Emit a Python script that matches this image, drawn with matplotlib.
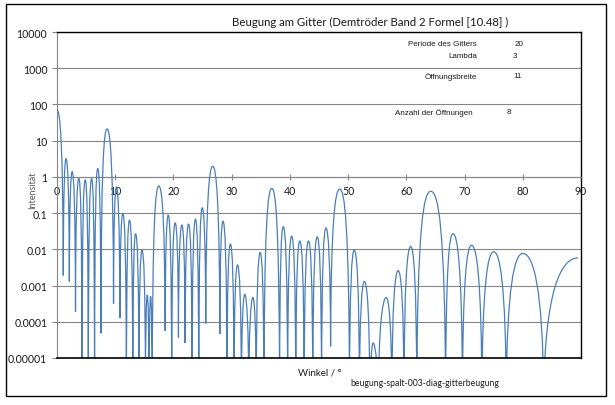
import numpy as np
import matplotlib
matplotlib.use("Agg")
import matplotlib.pyplot as plt
from matplotlib.path import Path
from matplotlib.patches import PathPatch, Rectangle
from matplotlib.ticker import FixedLocator, FixedFormatter, NullLocator

# ---- data: turning points (alternating maxima / minima) ----
# angle in degrees, intensity (1e-6 = minimum goes below the axis bottom)
winkel = [0.0, 1.08, 1.55, 2.12, 2.6, 3.18, 3.75, 4.3, 4.85, 5.38, 5.95, 6.45, 7.0, 7.54,
          8.6, 9.71, 10.2, 10.8, 11.3, 11.92, 12.45, 13.02, 13.5, 14.08, 14.6, 15.2, 15.5,
          15.82, 16.08, 16.35, 17.5, 18.58, 19.1, 19.7, 20.3, 20.86, 21.45, 22.0, 22.6,
          23.2, 23.78, 24.35, 24.95, 25.55, 26.74, 27.97, 28.5, 29.2, 29.78, 30.41, 31.0,
          31.67, 32.25, 32.94, 33.65, 34.23, 34.9, 35.54, 36.9, 38.23, 38.85, 39.61, 40.3,
          41.01, 41.7, 42.45, 43.2, 43.93, 44.7, 45.44, 46.2, 46.99, 48.55, 50.24, 51.05,
          51.94, 52.8, 53.73, 54.3, 55.2, 56.55, 57.52, 58.6, 59.6, 60.75, 61.79, 64.2,
          66.75, 68.0, 69.64, 71.2, 72.98, 75.0, 77.16, 80.0, 83.59, 89.5]
intensitaet = [70, 0.0019, 3.2, 0.0013, 1.4, 0.00019, 0.9, 1e-6, 0.83, 1e-6, 0.9, 1e-6, 1.7, 4.8e-5,
               21, 0.00032, 0.53, 0.000126, 0.098, 1e-6, 0.064, 1e-6, 0.027, 1e-6, 0.0095, 1e-6, 0.00055,
               1e-6, 0.0005, 1e-6, 0.56, 5.6e-5, 0.088, 1e-6, 0.054, 3.7e-5, 0.047, 2.6e-5, 0.05,
               1e-6, 0.068, 1e-6, 0.14, 9e-5, 1.96, 4.6e-5, 0.06, 1e-6, 0.014, 1e-6, 0.0037,
               1e-6, 0.00057, 1e-6, 0.00047, 1e-6, 0.0082, 1e-6, 0.48, 1e-6, 0.042, 1e-6, 0.023,
               1e-6, 0.017, 1e-6, 0.017, 1e-6, 0.022, 1e-6, 0.039, 2.1e-5, 0.46, 1e-6, 0.0095,
               1e-6, 0.0013, 1e-6, 2.6e-5, 1e-6, 0.00047, 1e-6, 0.0026, 1e-6, 0.012, 1e-6, 0.40,
               1e-6, 0.027, 1e-6, 0.013, 1e-6, 0.0086, 1e-6, 0.0077, 1e-6, 0.0058]

x_ticks = [0, 10, 20, 30, 40, 50, 60, 70, 80, 90]
x_tick_labels = ["0", "10", "20", "30", "40", "50", "60", "70", "80", "90"]
y_ticks = [1e-5, 1e-4, 1e-3, 1e-2, 1e-1, 1, 10, 100, 1000, 10000]
y_tick_labels = ["0.00001", "0.0001", "0.001", "0.01", "0.1", "1", "10", "100", "1000", "10000"]

param_names = ["Periode des Gitters", "Lambda", "\u00d6ffnungsbreite", "Anzahl der \u00d6ffnungen"]
param_values = ["20", "3", "11", "8"]

title = "Beugung am Gitter (Demtr\u00f6der Band 2 Formel [10.48] )"
x_label = "Winkel / \u00b0"
y_label = "Intensit\u00e4t"
footnote = "beugung-spalt-003-diag-gitterbeugung"

# ---- figure ----
W, H = 615, 406
fig = plt.figure(figsize=(W / 100, H / 100), dpi=100)
fig.patch.set_facecolor("white")


def fx(x):
    return x / W


def fy(y):
    return 1 - y / H


ax = fig.add_axes([fx(57), fy(359), (581 - 57) / W, (359 - 33) / H])
ax.set_yscale("log")

# smooth curve (Bezier, like Excel's smoothed line) through the turning points
L = np.log10(np.array(intensitaet, dtype=float))
verts = [(winkel[0], intensitaet[0])]
codes = [Path.MOVETO]
for i in range(len(winkel) - 1):
    xa, xb = winkel[i], winkel[i + 1]
    La, Lb = L[i], L[i + 1]
    w = xb - xa
    if La > Lb:  # falling from a maximum into a minimum
        c1 = (xa + 0.5 * w, La)
        c2 = (xa + 0.96 * w, La - 0.9)
    else:  # rising from a minimum to a maximum
        c1 = (xa + 0.04 * w, Lb - 0.9)
        c2 = (xa + 0.5 * w, Lb)
    verts += [(c1[0], 10 ** c1[1]), (c2[0], 10 ** c2[1]), (xb, 10 ** Lb)]
    codes += [Path.CURVE4] * 3
patch = PathPatch(Path(verts, codes), fill=False, edgecolor="#4A7EBB", lw=0.9, zorder=3)
ax.add_patch(patch)

ax.set_xlim(0, 90)
ax.set_ylim(1e-5, 1e4)

# grid & axes
grid_col = "#868686"
ax.yaxis.set_major_locator(FixedLocator(y_ticks))
ax.yaxis.set_major_formatter(FixedFormatter(y_tick_labels))
ax.yaxis.set_minor_locator(NullLocator())
ax.xaxis.set_major_locator(FixedLocator(x_ticks))
ax.xaxis.set_major_formatter(FixedFormatter(x_tick_labels))
ax.xaxis.set_minor_locator(NullLocator())
ax.yaxis.grid(True, color=grid_col, lw=0.8, zorder=0)
ax.set_axisbelow(True)

ax.spines["top"].set_color("black")
ax.spines["right"].set_color("black")
ax.spines["top"].set_linewidth(1.0)
ax.spines["right"].set_linewidth(1.0)
ax.spines["left"].set_color(grid_col)
ax.spines["left"].set_linewidth(0.8)
ax.spines["bottom"].set_position(("data", 1))
ax.spines["bottom"].set_color(grid_col)
ax.spines["bottom"].set_linewidth(0.8)
ax.plot([0, 1], [0, 0], transform=ax.transAxes, color="black", lw=1.2, clip_on=False, zorder=4)

ax.tick_params(axis="y", direction="out", length=3.5, width=0.8, color=grid_col, pad=3.5,
               labelcolor="#1a1a1a")
ax.tick_params(axis="x", direction="inout", length=4, width=0.8, color=grid_col, pad=3.5,
               labelcolor="#1a1a1a")
for lab in ax.get_yticklabels() + ax.get_xticklabels():
    lab.set_fontfamily("Lato")
    lab.set_fontsize(7.6)

# outer chart border
fig.add_artist(Rectangle((fx(6), fy(397)), 600 / W, 392 / H, transform=fig.transFigure,
                         fill=False, ec="black", lw=1.0))

# texts
fig.text(fx(370), fy(22), title, family="Lato", size=8.2, ha="center", va="center", color="#1a1a1a")

name_pos = [(477, 44), (477, 57), (477, 77), (473, 113)]
val_pos = [(515, 44), (513, 57), (513, 77), (507, 113)]
for name, val, (nx, ny), (vx, vy) in zip(param_names, param_values, name_pos, val_pos):
    fig.text(fx(nx), fy(ny), name, family="Liberation Sans", size=5.8, ha="right", va="center",
             color="#1a1a1a")
    fig.text(fx(vx), fy(vy), val, family="Liberation Sans", size=5.8, ha="left", va="center",
             color="#1a1a1a")

fig.text(fx(33), fy(190), y_label, family="Lato", size=6.5, rotation=90, ha="center", va="center",
         color="#595959")
fig.text(fx(320), fy(373), x_label, family="Lato", size=7, ha="center", va="center", color="#1a1a1a")
fig.text(fx(425), fy(384), footnote, family="Lato", size=6.2, ha="center", va="center", color="#1a1a1a")

fig.savefig("out.png", dpi=100, facecolor="white")
